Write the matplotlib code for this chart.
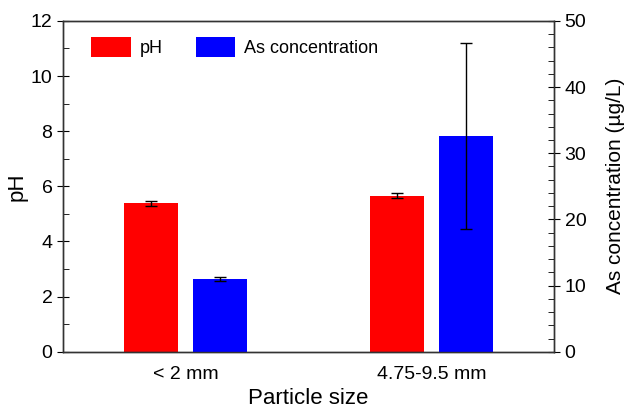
import numpy as np
import matplotlib
matplotlib.use('Agg')
import matplotlib.pyplot as plt
from matplotlib.ticker import MultipleLocator

plt.rcParams['font.family'] = ['Liberation Sans', 'DejaVu Sans']

# data
sizes = ['< 2 mm', '4.75-9.5 mm']
ph = [5.38, 5.66]
ph_err = [0.1, 0.08]
as_conc = [11.0, 32.6]
as_err = [0.3, 14.0]

x = np.arange(len(sizes))
w = 0.22
off = 0.14

fig = plt.figure(figsize=(6.29, 4.09), dpi=100)
ax = fig.add_axes([0.1, 0.14, 0.781, 0.809])
ax2 = ax.twinx()

b1 = ax.bar(x - off, ph, w, color='#ff0000', yerr=ph_err, capsize=4,
            error_kw=dict(elinewidth=1, capthick=1, ecolor='black'), label='pH')
b2 = ax2.bar(x + off, as_conc, w, color='#0000ff', yerr=as_err, capsize=4,
             error_kw=dict(elinewidth=1, capthick=1, ecolor='black'), label='As concentration')

ax.set_xlim(-0.5, 1.5)
ax.set_ylim(0, 12)
ax2.set_ylim(0, 50)
ax.set_xticks(x)
ax.set_xticklabels(sizes)
ax.tick_params(axis='x', length=0, labelsize=14, pad=10)

ax.yaxis.set_major_locator(MultipleLocator(2))
ax.yaxis.set_minor_locator(MultipleLocator(1))
ax.tick_params(axis='y', which='major', direction='inout', length=8, labelsize=14)
ax.tick_params(axis='y', which='minor', direction='in', length=4)

ax2.yaxis.set_major_locator(MultipleLocator(10))
ax2.yaxis.set_minor_locator(MultipleLocator(2))
ax2.tick_params(axis='y', which='major', direction='inout', length=8, labelsize=14)
ax2.tick_params(axis='y', which='minor', direction='in', length=4)

for a in (ax, ax2):
    for s in a.spines.values():
        s.set_color('#333333')
        s.set_linewidth(1)

ax.set_xlabel('Particle size', fontsize=16, labelpad=4)
ax.set_ylabel('pH', fontsize=16, labelpad=2)
ax2.set_ylabel('As concentration (\u00b5g/L)', fontsize=15, labelpad=14)

ax.legend([b1, b2], ['pH', 'As concentration'], loc='upper left', ncol=2,
          frameon=False, fontsize=13, handlelength=2.2, handleheight=1.3,
          handletextpad=0.5, columnspacing=1.8, bbox_to_anchor=(0.025, 1.0))

fig.savefig('out.png', dpi=100)
